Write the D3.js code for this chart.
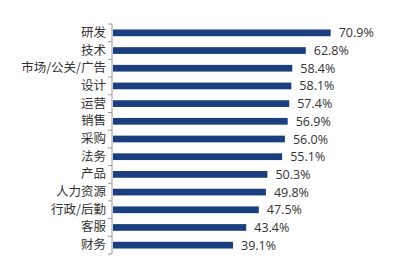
<!DOCTYPE html>
<html><head><meta charset="utf-8">
<script src="https://cdn.jsdelivr.net/npm/d3@7/dist/d3.min.js"></script>
<style>
html,body{margin:0;padding:0;background:#fff;}
svg{display:block;}
text{font-family:"Noto Sans CJK SC","Microsoft YaHei",sans-serif;}
</style></head>
<body>
<svg id="c" width="400" height="265"></svg>
<script>
const categories = ["研发","技术","市场/公关/广告","设计","运营","销售","采购","法务","产品","人力资源","行政/后勤","客服","财务"];
const values = [70.9,62.8,58.4,58.1,57.4,56.9,56.0,55.1,50.3,49.8,47.5,43.4,39.1];
const valueLabels = ["70.9%","62.8%","58.4%","58.1%","57.4%","56.9%","56.0%","55.1%","50.3%","49.8%","47.5%","43.4%","39.1%"];

(function(){
const svg = d3.select("#c");
const x0 = 112, yTop = 24, yBot = 254;
const x = d3.scaleLinear().domain([0, 100]).range([x0 + 1, x0 + 1 + 307]);
const y = d3.scaleBand().domain(categories).range([yTop, yBot]).paddingInner(0.62).paddingOuter(0.31);

svg.selectAll("rect.bar").data(values).join("rect")
  .attr("class","bar")
  .attr("x", x(0))
  .attr("y", (d,i) => y(categories[i]))
  .attr("width", d => x(d) - x(0))
  .attr("height", y.bandwidth())
  .attr("fill", "#1b3f7e");

const axis = d3.axisLeft(y).tickSize(0).tickPadding(6);
const g = svg.append("g").attr("transform", `translate(${x0},0)`).call(axis);
g.select(".domain").attr("stroke", "#999").attr("d", `M0,${yTop}V${yBot}`);
g.selectAll(".tick text").attr("font-size", 12.5).attr("fill", "#333")
  .style("font-family", '"Noto Sans CJK SC",sans-serif');
const bounds = d3.range(categories.length + 1).map(i => yTop + i * (yBot - yTop) / categories.length);
g.selectAll("line.bt").data(bounds).join("line").attr("class","bt")
  .attr("x1", -4).attr("x2", 0).attr("y1", d => d).attr("y2", d => d)
  .attr("stroke", "#999");

svg.selectAll("text.val").data(values).join("text")
  .attr("class","val")
  .attr("x", d => x(d) + 8)
  .attr("y", (d,i) => y(categories[i]) + y.bandwidth()/2)
  .attr("dy", "0.36em")
  .attr("font-size", 12.5)
  .attr("fill", "#333")
  .style("font-family", '"Open Sans","Noto Sans",sans-serif')
  .text((d,i) => valueLabels[i]);
})();
</script>
</body></html>
